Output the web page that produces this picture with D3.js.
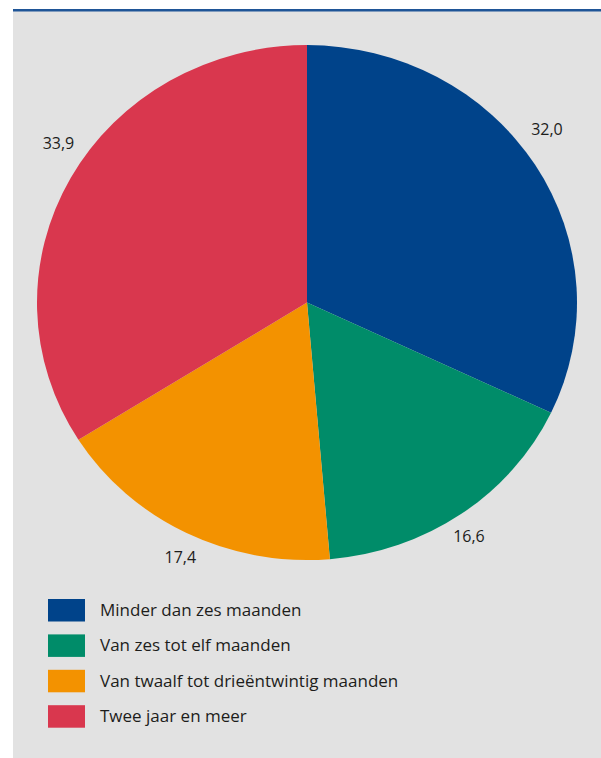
<!DOCTYPE html>
<html>
<head>
<meta charset="utf-8">
<script src="https://cdn.jsdelivr.net/npm/d3@7"></script>
<style>
  html, body { margin: 0; padding: 0; background: #ffffff; }
  svg { display: block; }
  text { font-family: "Open Sans", "Noto Sans", sans-serif; fill: #1d1d1b; }
</style>
</head>
<body>
<svg id="chart" width="601" height="758"></svg>
<script>
// ---- data ----
const categories = [
  "Minder dan zes maanden",
  "Van zes tot elf maanden",
  "Van twaalf tot drieëntwintig maanden",
  "Twee jaar en meer"
];
const values = [32.0, 16.6, 17.4, 33.9];
const valueLabels = ["32,0", "16,6", "17,4", "33,9"];
const colors = ["#00438a", "#008c69", "#f39200", "#d9374e"];

// ---- layout ----
const W = 601, H = 758;
const svg = d3.select("#chart");

// panel
svg.append("rect").attr("x", 13).attr("y", 11).attr("width", W - 13).attr("height", H - 11).attr("fill", "#e2e2e2");
svg.append("rect").attr("x", 13).attr("y", 9).attr("width", W - 13).attr("height", 2.5).attr("fill", "#1f5597");

const cx = 307, cy = 302.6, rx = 270, ry = 257.5;

const pie = d3.pie().sort(null).value(d => d)(values);
const arc = d3.arc().innerRadius(0).outerRadius(rx);

const g = svg.append("g").attr("transform", `translate(${cx},${cy}) scale(1,${ry / rx})`);
g.selectAll("path")
  .data(pie)
  .join("path")
  .attr("d", arc)
  .attr("fill", (d, i) => colors[i]);

// value labels outside the pie
const labelR = 284;
const labels = svg.append("g").attr("transform", `translate(${cx},${cy})`);
labels.selectAll("text")
  .data(pie)
  .join("text")
  .attr("x", d => Math.sin((d.startAngle + d.endAngle) / 2) * labelR)
  .attr("y", d => {
    const a = (d.startAngle + d.endAngle) / 2;
    const y = -Math.cos(a) * labelR;
    return y + (Math.cos(a) > 0 ? -22 : 0);
  })
  .attr("text-anchor", "middle")
  .attr("dominant-baseline", "central")
  .style("font-size", "16px")
  .text((d, i) => valueLabels[i]);

// legend
const legend = svg.append("g").attr("transform", "translate(48,599)");
const rows = legend.selectAll("g")
  .data(categories)
  .join("g")
  .attr("transform", (d, i) => `translate(0,${i * 35.4})`);
rows.append("rect").attr("width", 37).attr("height", 22.5).attr("fill", (d, i) => colors[i]);
rows.append("text")
  .attr("x", 52).attr("y", 17)
  .style("font-size", "17px")
  .text(d => d);
</script>
</body>
</html>
